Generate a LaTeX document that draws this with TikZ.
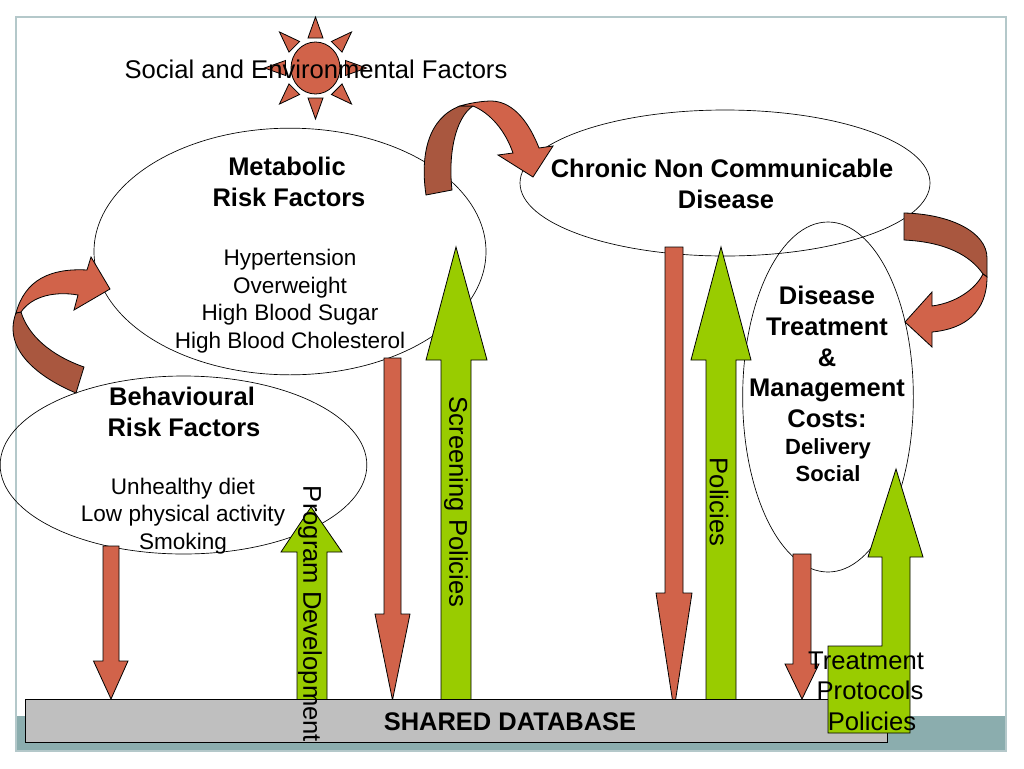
\documentclass[tikz,border=0pt]{standalone}
\usepackage{fontspec}
\setmainfont{Liberation Sans}
\usepackage{xcolor}
\usepackage{tikz}
\usetikzlibrary{shapes.geometric, positioning}

\definecolor{brick}{HTML}{D1634A}
\definecolor{brickdark}{HTML}{A9573F}
\definecolor{leaf}{HTML}{99CC00}
\definecolor{band}{HTML}{8BADAE}
\definecolor{framegray}{HTML}{B4C8CA}
\definecolor{bargray}{HTML}{BFBFBF}

\begin{document}
\begin{tikzpicture}[
            x=0.75pt, y=-0.75pt,
            blob/.style={ellipse, draw, line width=0.5pt, inner sep=0pt},
            redpart/.style={draw, line width=0.6pt, fill=brick},
            darkpart/.style={draw, line width=0.6pt, fill=brickdark},
            greenpart/.style={draw, line width=0.6pt, fill=leaf},
            plain/.style={align=center, inner sep=0pt, font=\fontsize{16.9}{20.6}\selectfont},
            big/.style={align=center, inner sep=0pt, font=\fontsize{19.2}{23}\selectfont},
            heading/.style={align=center, inner sep=0pt, font=\fontsize{19.1}{23.2}\selectfont\bfseries},
            small/.style={align=center, inner sep=0pt, font=\fontsize{16.5}{20.6}\selectfont\bfseries}
        ]
        \useasboundingbox (0,0) rectangle (1024,768);
        \fill[white] (0,0) rectangle (1024,768);
        \fill[band] (16,716) rectangle (1006,751);
        \draw[framegray, line width=1pt] (16,17) rectangle (1006,751);

        \foreach \ang in {0,45,...,315}
            \draw[redpart, shift={(315.5,68)}, rotate=\ang] (30,-7.5) -- (51,0) -- (30,7.5) -- cycle;
        \draw[redpart] (315.5,68) ellipse (24.5 and 26);

        \node[blob, minimum width=294pt, minimum height=185pt] (metabolic) at (290,251.5) {};
        \node[blob, minimum width=275pt, minimum height=133.5pt] (behavioural) at (183.5,465) {};
        \node[blob, minimum width=307.5pt, minimum height=109.5pt] (chronic) at (725,183) {};
        \node[blob, minimum width=128pt, minimum height=262.5pt] (treatment) at (828,397) {};

        \draw[greenpart] (311,507) -- (342,552) -- (327,552) -- (327,700) -- (297,700) -- (297,552) -- (281,552) -- cycle;
        \draw[greenpart] (456,247) -- (487,360) -- (471,360) -- (471,700) -- (441,700) -- (441,360) -- (426,360) -- cycle;
        \draw[greenpart] (721,247) -- (751,360) -- (736,360) -- (736,700) -- (706,700) -- (706,360) -- (691,360) -- cycle;

        \draw[redpart] (103,546) -- (119,546) -- (119,661) -- (128,661) -- (111,699) -- (93.5,661) -- (103,661) -- cycle;
        \draw[redpart] (384,358) -- (401,358) -- (401,614) -- (410,614) -- (392.5,700) -- (375,614) -- (384,614) -- cycle;
        \draw[redpart] (665,247) -- (683,247) -- (683,593) -- (692,593) -- (674,710) -- (656,593) -- (665,593) -- cycle;
        \draw[redpart] (793,554) -- (811,554) -- (811,664) -- (819,664) -- (802,699) -- (785,664) -- (793,664) -- cycle;

        \draw[darkpart] (426,195) .. controls (420,155) and (428,118) .. (460,106) -- (473,106) .. controls (455,118) and (448,155) .. (452,190) -- cycle;
        \draw[redpart] (460,106) .. controls (470,103) and (482,101) .. (492,101) .. controls (515,102) and (530,125) .. (539,148) -- (553,146) -- (533,177) -- (498,155) -- (513,153) .. controls (505,130) and (490,113) .. (473,106) -- cycle;

        \draw[darkpart] (76,393) .. controls (40,378) and (2,350) .. (16,313) -- (21,312) .. controls (28,335) and (50,355) .. (84,367) -- cycle;
        \draw[redpart] (16,313) .. controls (25,280) and (50,268) .. (87,270) -- (91,257) -- (110,289) -- (74,310) -- (78,295) .. controls (55,291) and (32,296) .. (21,312) -- cycle;

        \draw[darkpart] (904,213) .. controls (950,214) and (987,232) .. (987,258) -- (987,277) -- (983,274) .. controls (970,255) and (945,242) .. (904,240) -- cycle;
        \draw[redpart] (983,274) .. controls (975,290) and (955,303) .. (932,306) -- (932,292) -- (905,322) -- (932,347) -- (932,332) .. controls (965,329) and (987,312) .. (987,277) -- cycle;

        \draw[line width=0.6pt, fill=bargray] (25,699) rectangle (887.5,742);
        \node[heading] (database) at (510,722) {SHARED DATABASE};

        \draw[greenpart] (896,469) -- (923,557) -- (910,557) -- (910,733) -- (828,733) -- (828,646) -- (882,646) -- (882,557) -- (868,557) -- cycle;

        \node[big] (social) at (316,69) {Social and Environmental Factors};
        \node[heading] (metabolictitle) at (289,182) {Metabolic\hspace*{3pt}\\Risk Factors};
        \node[plain] (metaboliclist) at (290,301) {Hypertension\\Overweight\\High Blood Sugar\\High Blood Cholesterol};
        \node[heading] (behaviouraltitle) at (184,412) {Behavioural\hspace*{3pt}\\Risk Factors};
        \node[plain] (behaviourallist) at (183,516) {Unhealthy diet\\Low physical activity\\Smoking};
        \node[heading] (chronictitle) at (722,184) {Chronic Non Communicable\\\hspace*{6pt}Disease};
        \node[heading, font=\fontsize{19.1}{23}\selectfont\bfseries] (treatmenttitle) at (827,357) {Disease\\Treatment\\\&\\Management\\Costs:};
        \node[small] (treatmentlist) at (828,460) {Delivery\\Social};
        \node[big, rotate=-90] (screening) at (456,502) {Screening Policies};
        \node[big, rotate=-90] (program) at (310,614) {Program Development};
        \node[big, rotate=-90] (policies) at (719,502) {Policies};
        \node[big] (protocols) at (866,691) {Treatment\\\hspace*{6pt}Protocols\\\hspace*{9pt}Policies};

    \end{tikzpicture}
\end{document}
